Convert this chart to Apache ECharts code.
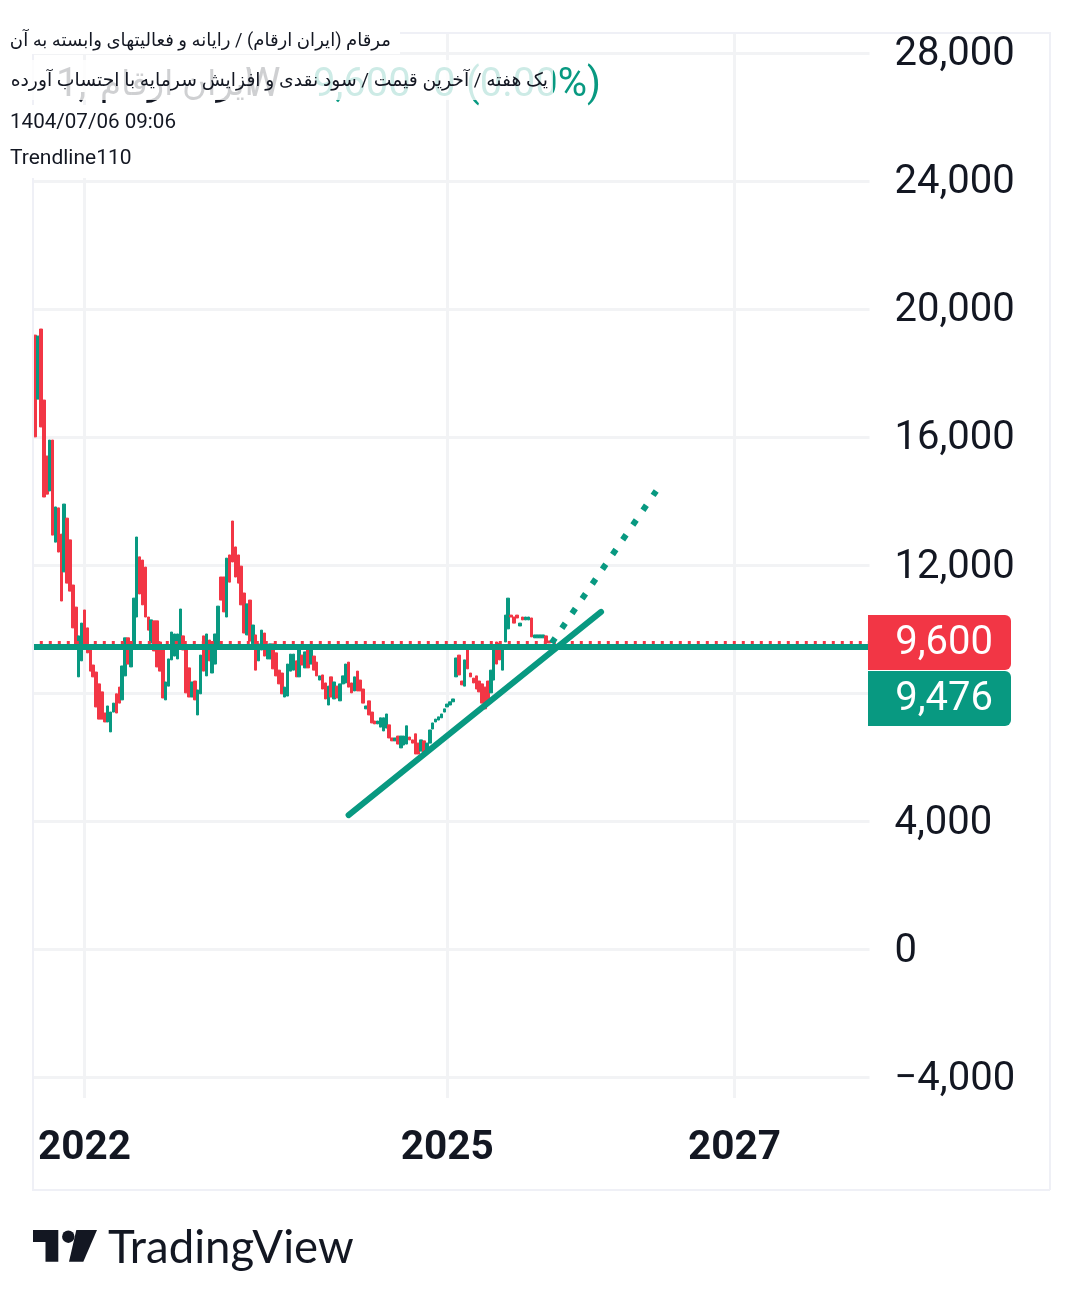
<!DOCTYPE html>
<html><head><meta charset="utf-8"><style>html,body{margin:0;padding:0;background:#fff}#c{width:1083px;height:1304px}</style>
<script src="https://cdn.jsdelivr.net/npm/echarts@6/dist/echarts.min.js"></script></head><body><div id="c"></div><script>
const opens=[16300,19200,17200,19390,17170,15420,14330,15920,12730,13800,12980,11800,13480,12800,11390,10700,8520,9020,10610,10050,9520,8890,8670,8300,8050,7390,7110,6800,7420,7990,8200,7800,8550,9740,8830,9520,10390,12270,12170,11950,10390,9580,10270,10270,9610,9390,7800,8230,9050,9170,9080,9520,9800,9390,8800,7890,8390,7330,7990,9800,8550,9670,8640,8920,9520,11640,11640,10390,12330,13390,12580,12330,11980,11140,9830,10920,9550,9830,9020,9360,9890,9080,9080,9550,9270,8730,8640,7890,7920,8700,8730,9020,8520,9200,8800,9520,8920,9170,8980,8420,8580,8330,7640,8520,7830,8230,7770,8300,8330,8980,8330,8080,8700,8420,8140,7520,7770,7420,7140,7050,6950,6830,6920,7020,6610,6520,6670,6300,6390,6420,6640,6550,6740,6450,6200,6520,6240,6450,6890,7110,7170,7240,7420,7580,7640,7740,8520,9200,8390,8230,9520,8640,8480,8550,8390,8300,8200,8390,8020,8420,9610,9580,8730,9610,10020,10450,10390,10450,10110,10390,10300,10300,10360,9740,9740,9740,9740,9800,9640,9640];
const closes=[18390,16020,19170,16330,14140,14230,15920,12950,13830,12420,10890,13920,11450,11200,10050,9520,9800,10200,9520,9270,8700,8520,7580,7200,7200,7110,7610,7420,7700,7390,7700,8860,9740,8920,9480,10980,12890,11110,10770,10390,9980,10300,9330,8830,8700,7860,8360,9080,9920,9860,9860,10640,9360,8020,7890,8360,7800,8110,9200,8700,9860,9020,9520,9860,10730,10920,10550,12230,11480,12110,11640,11450,10770,9890,10800,9640,10140,8730,9550,9980,9170,9520,9550,8770,8550,8300,7990,8200,8920,9230,9230,8520,9360,8890,9300,8800,9360,8730,8550,8550,8140,7830,8230,7890,8360,7860,8300,8550,8920,8200,8020,8520,8080,8080,7700,7610,7330,7080,7050,7140,7240,7240,7360,6610,6520,6610,6420,6670,6670,6990,6550,6450,6110,6110,6550,6080,6450,6860,7080,7200,7270,7360,7520,7670,7740,7830,9110,8580,8270,9050,8770,8520,8330,8140,8050,7700,7520,7800,8730,9360,8920,9050,9420,10450,10980,10390,10200,10360,10200,10300,10390,10390,9770,9830,9830,9830,9830,9580,9580,9600];
const yTicks=[-4000,0,4000,8000,12000,16000,20000,24000,28000];
const yTickLabels=['−4,000','0','4,000','','12,000','16,000','20,000','24,000','28,000'];
const yearTicks={18:'2022',143:'2025',242:'2027'};
const slotCount=289;
const closeLine=9476, lastPrice=9600;
const trendIdx=[109,196], trendVal=[4200,10550];
const dotIdx=[179,215], dotVal=[9580,14330];
const titleText=['مرقام (ایران ارقام) / رایانه و فعالیتهای وابسته به آن','یک هفته / آخرین قیمت / سود نقدی و افزایش سرمایه با احتساب آورده','1404/07/06 09:06','Trendline110'];

const TEAL='#089981',RED='#F23645',INK='#131722',GRID='#f2f3f5',FRAME='#eff0f6';
const cats=Array.from({length:slotCount},(_,i)=>yearTicks[i]||String(i));
const candles=opens.map((o,i)=>[o,closes[i],Math.min(o,closes[i]),Math.max(o,closes[i])]);
const isYear=i=>yearTicks[i]!==undefined;
const F='Roboto,"DejaVu Sans",sans-serif';
const t=(x,y,text,size,fill,extra,z)=>({type:'text',z:z||100,silent:true,x,y,style:Object.assign({text,fill,font:size+'px '+F,verticalAlign:'middle'},extra||{})});
const r=(x,y,w,h,fill,z)=>({type:'rect',z:z||100,silent:true,shape:{x,y,width:w,height:h},style:{fill}});

const chart=echarts.init(document.getElementById('c'),null,{renderer:'canvas'});
chart.setOption({animation:false,backgroundColor:'#fff',
 grid:{left:30.8,top:33,width:838.7,height:1065},
 xAxis:{type:'category',data:cats,boundaryGap:true,axisLine:{show:false},
  axisTick:{show:false,alignWithLabel:true,interval:i=>isYear(i)},
  splitLine:{show:true,alignWithLabel:true,interval:i=>isYear(i),lineStyle:{color:GRID,width:3}},
  axisLabel:{interval:i=>isYear(i),margin:30,hideOverlap:false,color:INK,fontFamily:'Roboto',fontWeight:'bold',fontSize:40.5,formatter:v=>v}},
 yAxis:{type:'value',position:'right',min:-4640.6,max:28640.6,scale:false,axisLine:{show:false},
  axisTick:{show:false,customValues:yTicks},
  splitLine:{show:true,lineStyle:{color:GRID,width:3}},
  axisLabel:{customValues:yTicks,margin:25,align:'left',color:INK,
   formatter:v=>'{a|'+yTickLabels[yTicks.indexOf(v)]+'}',
   rich:{a:{fontFamily:'Roboto',fontSize:40,color:INK,padding:[4,0,0,0]}}}},
 series:[
  {type:'candlestick',data:candles,barWidth:3,itemStyle:{color:TEAL,color0:RED,borderColor:TEAL,borderColor0:RED,borderWidth:1},
   markLine:{silent:true,symbol:'none',animation:false,label:{show:false},data:[
    {yAxis:closeLine,lineStyle:{color:TEAL,width:6,type:'solid'}},
    {yAxis:lastPrice,lineStyle:{color:RED,width:3,type:[3,6]}}]}},
  {type:'line',data:trendIdx.map((x,i)=>[x,trendVal[i]]),symbol:'none',z:5,lineStyle:{color:TEAL,width:6,cap:'round'}},
  {type:'line',data:dotIdx.map((x,i)=>[x,dotVal[i]]),symbol:'none',z:5,lineStyle:{color:TEAL,width:6,type:[6,11.9]}}
 ],
 graphic:{elements:[
  {type:'polyline',z:1,silent:true,shape:{points:[[1050,1190],[1050,33],[33,33]]},style:{stroke:FRAME,lineWidth:2,fill:null}},
  r(0,0,32,1304,'#fff',10),
  {type:'polyline',z:11,silent:true,shape:{points:[[33,178],[33,1190],[1050,1190]]},style:{stroke:FRAME,lineWidth:2,fill:null}},
  {type:'polyline',z:11,silent:true,shape:{points:[[33,33],[33,105]]},style:{stroke:FRAME,lineWidth:2,fill:null}},
  {type:'rect',z:90,silent:true,shape:{x:868,y:615,width:143,height:55,r:[0,6,6,0]},style:{fill:RED}},
  {type:'rect',z:90,silent:true,shape:{x:868,y:671,width:143,height:55,r:[0,6,6,0]},style:{fill:TEAL}},
  t(993,644,'9,600',40,'#fff',{align:'right'}),
  t(993,700,'9,476',40,'#fff',{align:'right'}),
  t(56,86,'1,',40,INK,null,80),
  t(100,86,'ایران ارقام',34,INK,null,80),
  t(245,86,'W',40,INK,null,80),
  t(313,86,'9,600',40,TEAL,null,80),
  t(433,86,'0',40,TEAL,null,80),
  t(466,86,'(0.00%)',40,TEAL,null,80),
  r(0,28,400,26,'#fff',95),
  r(0,60,553,40,'rgba(255,255,255,0.8)',95),
  r(0,105,185,35,'#fff',95),
  r(0,140,140,38,'#fff',95),
  t(391,41,titleText[0],18.1,INK,{align:'right'}),
  t(548,81,titleText[1],18.8,INK,{align:'right'}),
  t(10,123,titleText[2],20.6,INK),
  t(10,159,titleText[3],21,INK),
  {type:'polygon',z:100,silent:true,shape:{points:[[33,1230],[58.3,1230],[58.3,1261.7],[45.5,1261.7],[45.5,1242],[33,1242]]},style:{fill:INK}},
  {type:'circle',z:100,silent:true,shape:{cx:68.3,cy:1236.7,r:6.2},style:{fill:INK}},
  {type:'polygon',z:100,silent:true,shape:{points:[[76.3,1230],[97,1230],[83.3,1261.7],[69,1261.7]]},style:{fill:INK}},
  t(108,1248.5,'TradingView',45.5,INK,{font:'400 45.5px Lato,Roboto,sans-serif'})
 ]}
});
</script></body></html>
